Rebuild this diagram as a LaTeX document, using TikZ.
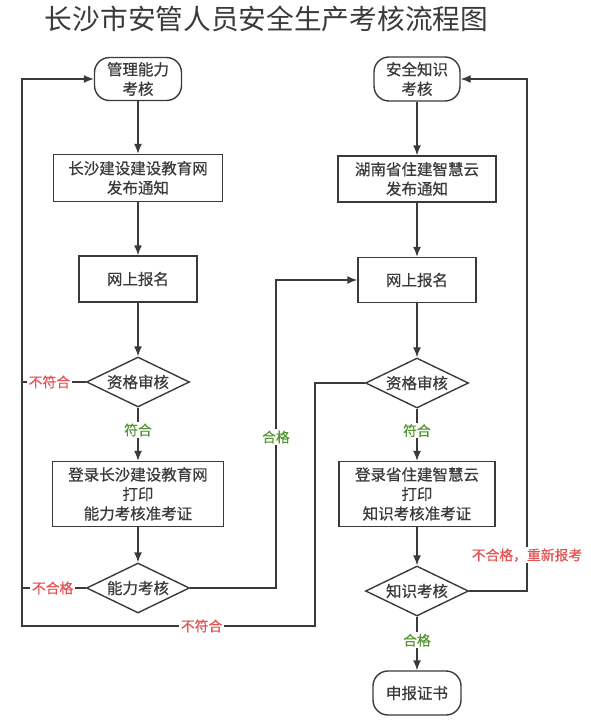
\documentclass[tikz,border=0pt]{standalone}
\usepackage{fontspec}
\setmainfont{Noto Sans CJK SC}
\newfontfamily\medfont{Noto Sans CJK SC}[FakeBold=0.6]
\usetikzlibrary{arrows.meta,shapes.geometric}
\definecolor{ln}{RGB}{58,58,58}
\definecolor{okgreen}{RGB}{86,150,52}
\definecolor{badred}{RGB}{228,82,82}
\tikzset{
  x=1pt,y=-1pt,
  base/.style={draw=ln,line width=1.4pt,text=ln,inner sep=0pt,align=center,font=\medfont\fontsize{15.5}{19.5}\selectfont},
  term/.style={base,rounded corners=15pt},
  proc/.style={base},
  dec/.style={base,diamond,aspect=2},
  arr/.style={draw=ln,line width=1.4pt,-{Latex[length=10pt,width=8pt]}},
  ln/.style={draw=ln,line width=1.4pt},
  lab/.style={fill=white,inner sep=1.5pt,font=\medfont\fontsize{13.8}{15}\selectfont},
  gl/.style={lab,text=okgreen},
  rl/.style={lab,text=badred},
}
\begin{document}
\begin{tikzpicture}
\useasboundingbox (0,0) rectangle (591,720);
\node[text=ln,font=\fontsize{27.7}{30}\selectfont] (title) at (266.5,19) {长沙市安管人员安全生产考核流程图};
% left column
\node[term,minimum width=87,minimum height=43] (t1) at (138,79) {管理能力\\考核};
\node[proc,minimum width=169,minimum height=47] (b1) at (138,178) {长沙建设建设教育网\\发布通知};
\node[proc,minimum width=118,minimum height=46] (b2) at (138,279) {网上报名};
\node[dec,minimum width=103,minimum height=50] (d1) at (138,382) {资格审核};
\node[proc,minimum width=171,minimum height=65] (b3) at (138,494) {登录长沙建设教育网\\打印\\能力考核准考证};
\node[dec,minimum width=103,minimum height=50] (d2) at (138,588) {能力考核};
% right column
\node[term,minimum width=86,minimum height=44] (t2) at (417,79) {安全知识\\考核};
\node[proc,minimum width=158,minimum height=46] (c1) at (417,179) {湖南省住建智慧云\\发布通知};
\node[proc,minimum width=118,minimum height=45] (c2) at (417,280) {网上报名};
\node[dec,minimum width=103,minimum height=50] (e1) at (417,383) {资格审核};
\node[proc,minimum width=156,minimum height=65] (c3) at (417,494) {登录省住建智慧云\\打印\\知识考核准考证};
\node[dec,minimum width=103,minimum height=50] (e2) at (417,591) {知识考核};
\node[term,minimum width=88,minimum height=44] (t3) at (417,693) {申报证书};
% helper coordinates
\coordinate (la) at (22,382);
\coordinate (lb) at (22,588);
\coordinate (lc) at (22,626);
\coordinate (ld) at (22,79);
\coordinate (ra) at (315,383);
\coordinate (rb) at (315,626);
\coordinate (ma) at (276,588);
\coordinate (mb) at (276,280);
\coordinate (pa) at (527,591);
\coordinate (pb) at (527,79);
% vertical flow
\draw[arr] (t1) -- (b1);
\draw[arr] (b1) -- (b2);
\draw[arr] (b2) -- (d1);
\draw[arr] (d1) -- node[gl,pos=0.42]{符合} (b3);
\draw[arr] (b3) -- (d2);
\draw[arr] (t2) -- (c1);
\draw[arr] (c1) -- (c2);
\draw[arr] (c2) -- (e1);
\draw[arr] (e1) -- node[gl,pos=0.42]{符合} (c3);
\draw[arr] (c3) -- (e2);
\draw[arr] (e2) -- node[gl,pos=0.44]{合格} (t3);
% loops
\draw[ln] (d1.west) -- node[rl,pos=0.57]{不符合} (la);
\draw[ln] (d2.west) -- node[rl,pos=0.52]{不合格} (lb);
\draw[arr] (e1.west) -- (ra) -- (rb) -- node[rl,pos=0.387]{不符合} (lc) -- (ld) -- (t1.west);
\draw[arr] (d2.east) -- (ma) -- node[gl,pos=0.49]{合格} (mb) -- (c2.west);
\draw[arr] (e2.east) -- (pa) -- node[rl,pos=0.07]{不合格，重新报考} (pb) -- (t2.east);
\end{tikzpicture}
\end{document}
